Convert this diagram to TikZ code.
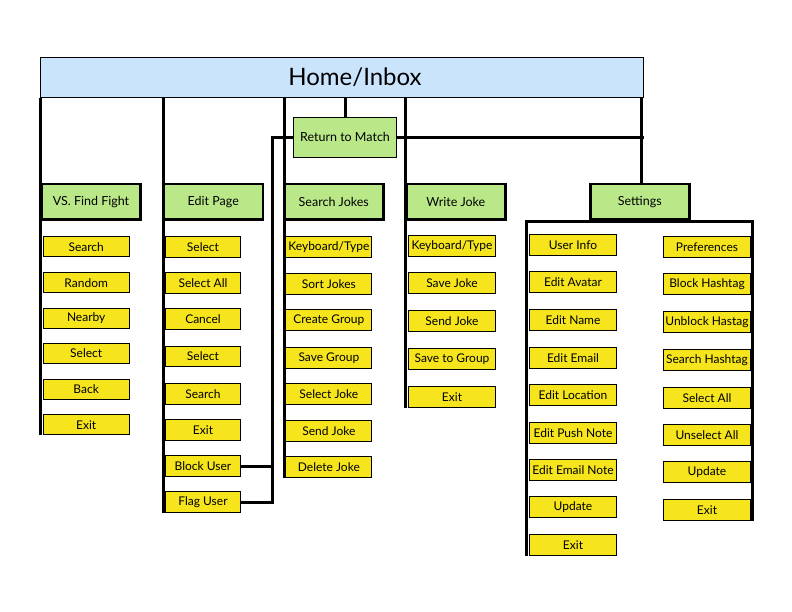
\documentclass[tikz,border=0pt]{standalone}
\usepackage{fontspec}
\setmainfont{Lato}
\usetikzlibrary{backgrounds}
\definecolor{homeblue}{HTML}{CAE4FC}
\definecolor{menugreen}{HTML}{BAE889}
\definecolor{itemyellow}{HTML}{F6E51C}
\begin{document}
\begin{tikzpicture}[x=1pt,y=-1pt,
  wire/.style={line width=3pt},
  screen/.style={draw, line width=2.5pt, fill=menugreen, minimum width=99pt,
    minimum height=35.5pt, inner sep=0pt, font=\fontsize{12.5}{14}\selectfont},
  action/.style={draw, line width=0.9pt, fill=itemyellow, minimum height=20pt,
    inner sep=0pt, anchor=north west, font=\fontsize{12}{14}\selectfont},
]
\useasboundingbox (0,0) rectangle (792,612);

% top level
\node[draw, line width=0.8pt, fill=homeblue, minimum width=603pt, minimum height=40pt,
  inner sep=0pt] (home) at (341.8,77.3) {};
\node[font=\fontsize{24}{28}\selectfont, inner sep=0pt] (hometitle) at (355,77.3) {Home/Inbox};

\node[draw, line width=0.8pt, fill=menugreen, minimum width=103pt, minimum height=39.5pt,
  inner sep=0pt, font=\fontsize{12.5}{14}\selectfont] (rtm) at (345,137.3) {Return to Match};

% second level screens
\node[screen] (vs)   at (91,201.7)    {VS. Find Fight};
\node[screen] (edit) at (213.3,201.7) {Edit Page};
\node[screen] (srch) at (333.8,201.7) {Search Jokes};
\node[screen] (wr)   at (455.8,201.7) {Write Joke};
\node[screen] (set)  at (639.8,201.7) {Settings};

% actions
\foreach \t/\y [count=\i] in {Search/236.3, Random/272.3, Nearby/307.7, Select/342.7, Back/378.7, Exit/414.3}
  \node[action, minimum width=86.5pt] (vs\i) at (42.5,\y) {\t};
\foreach \t/\y [count=\i] in {Select/236.3, Select All/272.3, Cancel/308.3, Select/345.7, Search/383.3, Exit/419.3, Block User/455.3, Flag User/491.3}
  \node[action, minimum width=75.5pt, minimum height=20.5pt] (ed\i) at (164.8,\y) {\t};
\foreach \t/\y [count=\i] in {{Keyboard/Type}/236.3, Sort Jokes/273.3, Create Group/309.3, Save Group/347.3, Select Joke/383.3, Send Joke/420.3, Delete Joke/456.3}
  \node[action, minimum width=86pt, minimum height=20.5pt] (sj\i) at (285.4,\y) {\t};
\foreach \t/\y [count=\i] in {{Keyboard/Type}/235.3, Save Joke/272.3, Send Joke/310.3, Save to Group/348.3, Exit/386.3}
  \node[action, minimum width=87.5pt, minimum height=20.5pt] (wj\i) at (407.8,\y) {\t};
\foreach \t/\y [count=\i] in {User Info/234.3, Edit Avatar/271.3, Edit Name/309.3, Edit Email/347.3, Edit Location/384.3, Edit Push Note/422.3, Edit Email Note/459.3, Update/496.3, Exit/534.3}
  \node[action, minimum width=87.5pt, minimum height=20.5pt] (sl\i) at (528.8,\y) {\t};
\foreach \t/\y [count=\i] in {Preferences/236.3, Block Hashtag/273.3, Unblock Hastag/311.3, Search Hashtag/349.3, Select All/387.3, Unselect All/424.3, Update/461.3, Exit/499.3}
  \node[action, minimum width=87.5pt, minimum height=20.5pt] (sr\i) at (662.8,\y) {\t};

% x positions of the vertical spines
\coordinate (vsx) at (40.8,0);
\coordinate (edx) at (163.7,0);
\coordinate (sjx) at (284,0);
\coordinate (wjx) at (405.8,0);
\coordinate (stx) at (641.2,0);
\coordinate (rtx) at (272.8,0);
\coordinate (rte) at (643.7,0);
\coordinate (boxL) at (526.3,221.3);
\coordinate (boxR) at (752.3,221.3);

\begin{scope}[on background layer]
  \draw[wire] (home.south -| vsx) -- (vsx |- vs6.south);
  \draw[wire] (home.south -| edx) -- (edx |- ed8.south);
  \draw[wire] (home.south -| sjx) -- (sjx |- sj7.south);
  \draw[wire] (home.south -| wjx) -- (wjx |- wj5.south);
\end{scope}
\draw[wire] (home.south -| stx) -- (stx |- set.north);
\draw[wire] (home.south -| rtm.north) -- (rtm.north);
\draw[wire] (rtm.east) -- (rtm.east -| rte);
\draw[wire] (rtm.west) -| (rtx |- ed8.east) -- (ed8.east);
\draw[wire] (ed7.east) -- (ed7.east -| rtx);
\draw[wire] (boxL |- sl9.south) -- (boxL) -- (boxR) -- (boxR |- sr8.south);
\end{tikzpicture}
\end{document}
